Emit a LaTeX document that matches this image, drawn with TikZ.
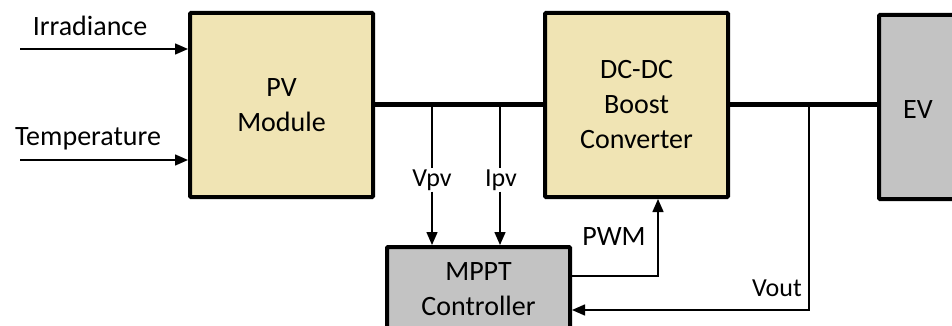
\documentclass[tikz,border=0pt]{standalone}
\usepackage{fontspec}
\setmainfont{Carlito}
\usetikzlibrary{arrows.meta}
\definecolor{tanfill}{RGB}{240,228,180}
\definecolor{greyfill}{RGB}{195,195,195}
\tikzset{
  blockbox/.style={draw=black, line width=4pt, rounded corners=1pt, minimum width=183pt, minimum height=184pt, align=center, inner sep=0pt, font=\fontsize{28}{35}\selectfont},
  tanbox/.style={blockbox, fill=tanfill},
  greybox/.style={blockbox, fill=greyfill},
  bus/.style={line width=5pt},
  sig/.style={line width=1.5pt},
  sigarrow/.style={sig, -{Triangle[length=13pt,width=11pt]}},
  lbl/.style={font=\fontsize{28}{35}\selectfont, inner sep=0pt},
  sublbl/.style={font=\fontsize{26}{32}\selectfont, inner sep=1pt}
}
\begin{document}
\begin{tikzpicture}[x=1pt,y=-1pt]
\useasboundingbox (0,0) rectangle (952,326);
\clip (0,0) rectangle (952,326);
\fill[white] (0,0) rectangle (952,326);
% blocks
\node[tanbox] (pv) at (281.5,105) {PV\\Module};
\node[tanbox] (dc) at (636.5,105) {DC-DC\\Boost\\Converter};
\node[greybox, anchor=north west, text width=90pt, align=left] (ev) at (877,13) {};
\node[lbl] (evt) at (918,110) {EV};
\node[greybox, minimum height=84pt] (mppt) at (478.5,289) {MPPT\\Controller};
% inputs
\node[lbl] (irrt) at (90,26) {Irradiance};
\node[lbl] (tempt) at (88,139) {Temperature};
\coordinate (irr) at (20,49);
\coordinate (tmp) at (20,160);
\draw[sigarrow] (irr) -- (irr -| pv.west);
\draw[sigarrow] (tmp) -- (tmp -| pv.west);
% buses
\draw[bus] (pv.east) -- (dc.west);
\draw[bus] (dc.east) -- (ev.west |- dc.east);
% Vpv, Ipv
\coordinate (vtap) at (432,105);
\coordinate (itap) at (500,105);
\node[sublbl] (vpv) at (432,180) {Vpv};
\node[sublbl] (ipv) at (501,180) {Ipv};
\draw[sig] (vtap) -- (vpv.north -| vtap);
\draw[sigarrow] (vpv.south -| vtap) -- (vtap |- mppt.north);
\draw[sig] (itap) -- (ipv.north -| itap);
\draw[sigarrow] (ipv.south -| itap) -- (itap |- mppt.north);
% PWM
\coordinate (pwmout) at (570,276);
\coordinate (pwmc) at (658,276);
\draw[sigarrow] (pwmout -| mppt.east) -- (pwmc) -- (pwmc |- dc.south);
\node[lbl] (pwmt) at (614,237) {PWM};
% Vout
\coordinate (otap) at (809,105);
\coordinate (ocorner) at (809,310);
\draw[sigarrow] (otap) -- (ocorner) -- (ocorner -| mppt.east);
\node[sublbl, anchor=east] (voutt) at (803,288) {Vout};
\end{tikzpicture}
\end{document}
